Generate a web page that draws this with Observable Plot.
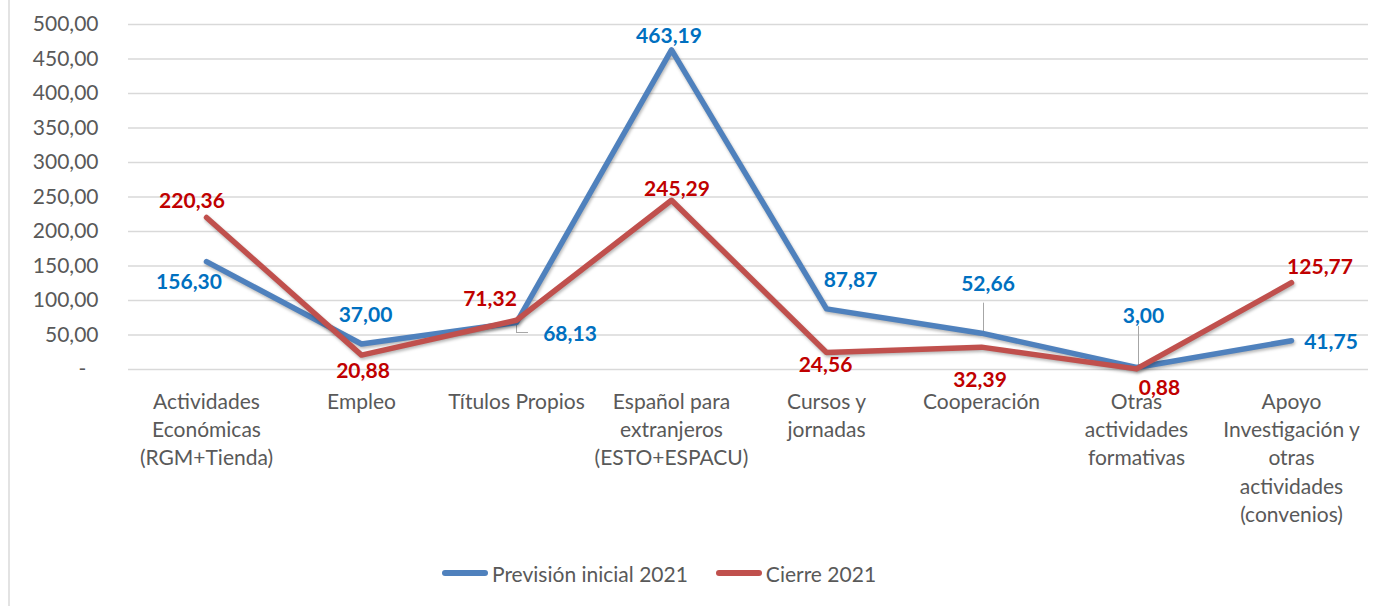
<!DOCTYPE html>
<html>
<head>
<meta charset="utf-8">
<script src="https://cdn.jsdelivr.net/npm/d3@7"></script>
<script src="https://cdn.jsdelivr.net/npm/@observablehq/plot@0.6"></script>
<style>
  html, body { margin: 0; padding: 0; background: #fff; }
  #wrap { position: relative; width: 1395px; height: 606px; background: #fff; font-family: Lato, sans-serif; overflow: hidden; }
  #border { position: absolute; left: 8px; top: 0; width: 2px; height: 606px; background: #e3e3e3; }
  #chart { position: absolute; left: 0; top: 0; }
  #legend { position: absolute; left: 442px; top: 558px; height: 30px; display: flex; align-items: center; font-size: 21px; color: #595959; white-space: nowrap; }
  .sw { display: inline-block; width: 46px; height: 6px; border-radius: 3px; margin-right: 4px; }
  .item { display: flex; align-items: center; margin-right: 28px; }
  svg g[aria-label="line"] { filter: drop-shadow(1px 2px 1.5px rgba(0,0,0,0.28)); }
</style>
</head>
<body>
<div id="wrap">
  <div id="border"></div>
  <div id="chart"></div>
  <div id="legend"></div>
</div>
<script>
const categories = [
  "Actividades Económicas (RGM+Tienda)",
  "Empleo",
  "Títulos Propios",
  "Español para extranjeros (ESTO+ESPACU)",
  "Cursos y jornadas",
  "Cooperación",
  "Otras actividades formativas",
  "Apoyo Investigación y otras actividades (convenios)"
];
const categoryLabels = [
  "Actividades\nEconómicas\n(RGM+Tienda)",
  "Empleo",
  "Títulos Propios",
  "Español para\nextranjeros\n(ESTO+ESPACU)",
  "Cursos y\njornadas",
  "Cooperación",
  "Otras\nactividades\nformativas",
  "Apoyo\nInvestigación y\notras\nactividades\n(convenios)"
];
const seriesNames = ["Previsión inicial 2021", "Cierre 2021"];
const prevision = [156.30, 37.00, 68.13, 463.19, 87.87, 52.66, 3.00, 41.75];
const cierre = [220.36, 20.88, 71.32, 245.29, 24.56, 32.39, 0.88, 125.77];
const yTicks = [0, 50, 100, 150, 200, 250, 300, 350, 400, 450, 500];

// label placement (pixel offsets from each point)
const prevOffsets = [[-17.5,21],[4,-29],[53.5,12],[-2.5,-14],[24,-29],[6.5,-49],[7,-51.5],[39.5,2]];
const cierreOffsets = [[-14.5,-16],[1.5,16],[-26.5,-21],[5.5,-11],[-1,13],[-1.5,33],[23,19],[28.5,-15]];

const lineColors = ["#4F81BD", "#C0504D"];
const labelColors = ["#0070C0", "#C00000"];

const fmt = v => v.toFixed(2).replace(".", ",");
const rows = (vals) => categories.map((c, i) => ({cat: c, v: vals[i]}));

function labelMarks(vals, offsets, color) {
  return vals.map((v, i) => Plot.text([i], {
    x: () => categories[i], y: () => v, text: () => fmt(v),
    dx: offsets[i][0], dy: offsets[i][1],
    fill: color, fontWeight: "bold", fontSize: 21, textAnchor: "middle", lineAnchor: "middle"
  }));
}

const leader = {stroke: "#a6a6a6", strokeWidth: 1};

const H = 545;
const chart = Plot.plot({
  width: 1395,
  height: H,
  marginTop: 24,
  marginBottom: H - 369,
  marginLeft: 128,
  marginRight: 27,
  style: {fontFamily: "Lato, sans-serif", fontSize: "21px", color: "#595959", background: "transparent"},
  x: {type: "point", domain: categories, padding: 0.5, label: null},
  y: {domain: [0, 500], label: null},
  marks: [
    Plot.gridY(yTicks, {stroke: "#d9d9d9", strokeOpacity: 1, strokeWidth: 1.5}),
    Plot.axisY(yTicks, {tickSize: 0, tickPadding: 30, fontSize: 21, label: null,
      tickFormat: d => d === 0 ? "-\u2007" : fmt(d)}),
    Plot.axisX({tickSize: 0, tickPadding: 19, fontSize: 21, lineHeight: 1.35, label: null,
      tickFormat: d => categoryLabels[categories.indexOf(d)]}),
    // leader lines
    Plot.ruleX([0], {x: () => categories[5], y1: () => prevision[5], y2: () => prevision[5], insetTop: -30, dx: 2, ...leader}),
    Plot.ruleX([0], {x: () => categories[6], y1: () => prevision[6], y2: () => prevision[6], insetTop: -41, dx: 2, ...leader}),
    Plot.ruleX([0], {x: () => categories[2], y1: () => prevision[2], y2: () => prevision[2], insetBottom: -10, ...leader}),
    Plot.ruleY([0], {y: () => prevision[2], x1: () => categories[2], x2: () => categories[2], insetRight: -12, dy: 10, ...leader}),
    Plot.line(rows(prevision), {x: "cat", y: "v", stroke: lineColors[0], strokeWidth: 5.5, strokeLinejoin: "round", strokeLinecap: "round"}),
    Plot.line(rows(cierre), {x: "cat", y: "v", stroke: lineColors[1], strokeWidth: 5.5, strokeLinejoin: "round", strokeLinecap: "round"}),
    ...labelMarks(prevision, prevOffsets, labelColors[0]),
    ...labelMarks(cierre, cierreOffsets, labelColors[1])
  ]
});
document.getElementById("chart").appendChild(chart);

const legend = document.getElementById("legend");
seriesNames.forEach((name, i) => {
  const item = document.createElement("span");
  item.className = "item";
  const sw = document.createElement("span");
  sw.className = "sw";
  sw.style.background = lineColors[i];
  item.appendChild(sw);
  item.appendChild(document.createTextNode(name));
  legend.appendChild(item);
});
</script>
</body>
</html>
